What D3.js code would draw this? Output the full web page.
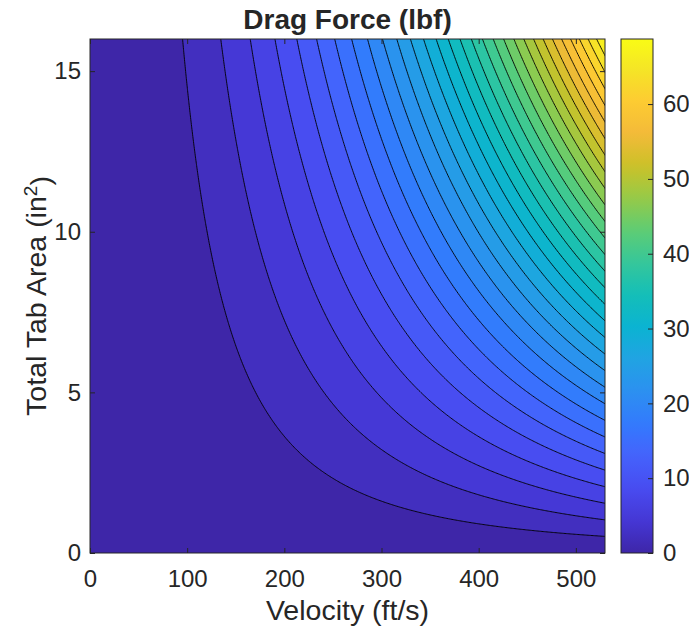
<!DOCTYPE html>
<html>
<head>
<meta charset="utf-8">
<script src="https://cdn.jsdelivr.net/npm/d3@7"></script>
<style>
  body { margin: 0; background: #fff; }
  text { font-family: "Liberation Sans", Arial, sans-serif; fill: #262626; }
</style>
</head>
<body>
<svg id="chart" width="689" height="630"></svg>
<script>
// ranges and ticks
const velocityRange = [0, 530];          // ft/s
const areaRange = [0, 16];               // in^2
const velocityTicks = [0, 100, 200, 300, 400, 500];
const areaTicks = [0, 5, 10, 15];
const forceTicks = [0, 10, 20, 30, 40, 50, 60];
const forceRange = [0, 68.7];            // colorbar limits (lbf)

// the 30 contour levels (lbf)
const levels = [2.22, 4.43, 6.65, 8.86, 11.08, 13.30, 15.51, 17.73, 19.95, 22.16,
                24.38, 26.59, 28.81, 31.03, 33.24, 35.46, 37.67, 39.89, 42.11, 44.32,
                46.54, 48.75, 50.97, 53.19, 55.40, 57.62, 59.83, 62.05, 64.27, 66.48];

// drag F = k * A * V^2, k fitted so that F(530 ft/s, 16 in^2) = 68.7 lbf
const kDrag = 1.5286e-5;

// parula colormap, every 16th entry
const parulaColors = ["#3e26a8", "#4537d5", "#484cf0", "#4562fc", "#337afd", "#2c90f0",
                      "#21a3e3", "#0bb3d2", "#14beb8", "#35c79b", "#5ecd74", "#96ca48",
                      "#cbc128", "#f3ba39", "#fdcb32", "#f5e526", "#f9fb15"];

const plot = {left: 90, right: 605, top: 39, bottom: 553};
const bar = {left: 621, right: 653};

let svg = d3.select("#chart");

let x = d3.scaleLinear().domain(velocityRange).range([plot.left, plot.right]);
let y = d3.scaleLinear().domain(areaRange).range([plot.bottom, plot.top]);

let parula = d3.scaleLinear()
    .domain(parulaColors.map((c, i) => Math.min(1, i * 16 / 255)))
    .range(parulaColors)
    .interpolate(d3.interpolateRgb)
    .clamp(true);
let cnorm = d3.scaleLinear().domain(forceRange).range([0, 1]);
let color = v => parula(cnorm(v));

// sample grid, a bit larger than the axes so the outer edges get clipped away
const nx = 420, ny = 320;
const vLo = -10, vHi = 545, aLo = -0.5, aHi = 16.5;
let values = new Array(nx * ny);
for (let j = 0; j < ny; j++) {
    let a = aHi - (j + 0.5) * (aHi - aLo) / ny;
    for (let i = 0; i < nx; i++) {
        let v = vLo + (i + 0.5) * (vHi - vLo) / nx;
        values[j * nx + i] = kDrag * a * v * v;
    }
}

let contours = d3.contours().size([nx, ny]).thresholds(levels)(values);

let path = d3.geoPath(d3.geoTransform({
    point: function(px, py) {
        this.stream.point(
            x(vLo + px * (vHi - vLo) / nx),
            y(aHi - py * (aHi - aLo) / ny));
    }
}));

svg.append("clipPath").attr("id", "clip")
    .append("rect")
    .attr("x", plot.left).attr("y", plot.top)
    .attr("width", plot.right - plot.left).attr("height", plot.bottom - plot.top);

let g = svg.append("g").attr("clip-path", "url(#clip)");

g.append("rect")
    .attr("x", plot.left).attr("y", plot.top)
    .attr("width", plot.right - plot.left).attr("height", plot.bottom - plot.top)
    .attr("fill", color(forceRange[0]));

g.selectAll("path.band")
    .data(contours)
    .enter()
    .append("path")
    .attr("class", "band")
    .attr("d", path)
    .attr("fill", d => color(d.value));

g.selectAll("path.line")
    .data(contours)
    .enter()
    .append("path")
    .attr("class", "line")
    .attr("d", path)
    .attr("fill", "none")
    .attr("stroke", "#000")
    .attr("stroke-width", 0.9);

// axes, ticks pointing inward like matlab
function styleAxis(sel) {
    sel.select(".domain").remove();
    sel.selectAll(".tick line").attr("stroke", "#262626");
    sel.selectAll("text").attr("fill", "#262626").style("font-size", "24px")
        .style("font-family", '"Liberation Sans", Arial, sans-serif');
}

svg.append("g")
    .attr("transform", `translate(0, ${plot.bottom})`)
    .call(d3.axisBottom(x).tickValues(velocityTicks).tickSize(-5).tickPadding(17))
    .call(styleAxis);
svg.append("g")
    .attr("transform", `translate(0, ${plot.top})`)
    .call(d3.axisTop(x).tickValues(velocityTicks).tickSize(-5).tickFormat(""))
    .call(styleAxis);
svg.append("g")
    .attr("transform", `translate(${plot.left}, 0)`)
    .call(d3.axisLeft(y).tickValues(areaTicks).tickSize(-5).tickPadding(9))
    .call(styleAxis);
svg.append("g")
    .attr("transform", `translate(${plot.right}, 0)`)
    .call(d3.axisRight(y).tickValues(areaTicks).tickSize(-5).tickFormat(""))
    .call(styleAxis);

svg.append("rect")
    .attr("x", plot.left).attr("y", plot.top)
    .attr("width", plot.right - plot.left).attr("height", plot.bottom - plot.top)
    .attr("fill", "none").attr("stroke", "#262626").attr("stroke-width", 1);

// colorbar
let cy = d3.scaleLinear().domain(forceRange).range([plot.bottom, plot.top]);
let grad = svg.append("defs").append("linearGradient")
    .attr("id", "cbar").attr("x1", 0).attr("y1", 1).attr("x2", 0).attr("y2", 0);
grad.selectAll("stop")
    .data(d3.range(0, 1.0001, 0.02))
    .enter()
    .append("stop")
    .attr("offset", d => d)
    .attr("stop-color", d => parula(d));

svg.append("rect")
    .attr("x", bar.left).attr("y", plot.top)
    .attr("width", bar.right - bar.left).attr("height", plot.bottom - plot.top)
    .attr("fill", "url(#cbar)");

svg.append("g")
    .attr("transform", `translate(${bar.right}, 0)`)
    .call(d3.axisRight(cy).tickValues(forceTicks).tickSize(-5).tickPadding(10))
    .call(styleAxis);

svg.append("rect")
    .attr("x", bar.left).attr("y", plot.top)
    .attr("width", bar.right - bar.left).attr("height", plot.bottom - plot.top)
    .attr("fill", "none").attr("stroke", "#262626").attr("stroke-width", 1);

// titles
svg.append("text")
    .attr("x", (plot.left + plot.right) / 2).attr("y", 29)
    .style("text-anchor", "middle")
    .style("font-size", "28px")
    .style("font-weight", "bold")
    .attr("fill", "#000")
    .text("Drag Force (lbf)");

svg.append("text")
    .attr("x", (plot.left + plot.right) / 2).attr("y", 620)
    .style("text-anchor", "middle")
    .style("font-size", "28.5px")
    .text("Velocity (ft/s)");

let ylab = svg.append("text")
    .attr("transform", `translate(46, ${(plot.top + plot.bottom) / 2}) rotate(-90)`)
    .style("text-anchor", "middle")
    .style("font-size", "28.5px");
ylab.append("tspan").text("Total Tab Area (in");
ylab.append("tspan").attr("dy", "-0.45em").style("font-size", "19px").text("2");
ylab.append("tspan").attr("dy", "0.45em").text(")");
</script>
</body>
</html>
